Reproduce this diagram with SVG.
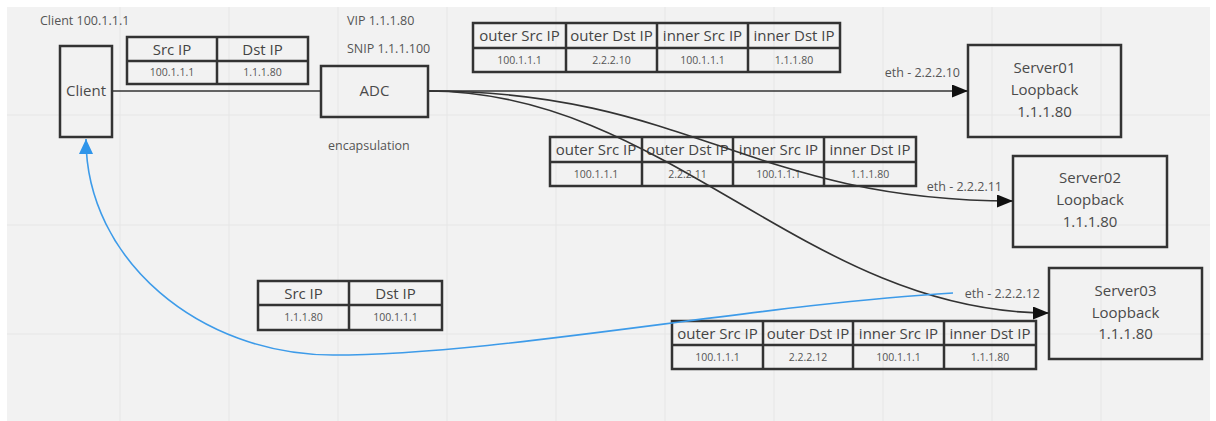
<svg xmlns="http://www.w3.org/2000/svg" width="1216" height="421" viewBox="0 0 1216 421">
<style>
.bg{fill:#f2f2f2}
.grid{stroke:#e6e6e6;stroke-width:1}
.box{fill:none;stroke:#333;stroke-width:2.5}
.tbl{fill:none;stroke:#333;stroke-width:2.5}
.lbl{font-family:"Open Sans","Liberation Sans",sans-serif;font-size:12.5px;fill:#555}
.name{font-family:"Open Sans","Liberation Sans",sans-serif;font-size:15px;fill:#4a4a4a;text-anchor:middle}
.th{font-family:"Open Sans","Liberation Sans",sans-serif;font-size:15px;fill:#444;text-anchor:middle}
.td{font-family:"Open Sans","Liberation Sans",sans-serif;font-size:10.5px;fill:#555;text-anchor:middle}
.conn{fill:none;stroke:#333;stroke-width:1.6}
.ret{fill:none;stroke:#3d9be9;stroke-width:1.6}
</style>
<defs>
<marker id="ah" markerUnits="userSpaceOnUse" markerWidth="16" markerHeight="13" refX="16" refY="6.5" orient="auto"><path d="M0,0 L16,6.5 L0,13 z" fill="#111"/></marker>
<marker id="ahb" markerUnits="userSpaceOnUse" markerWidth="15" markerHeight="14" refX="15" refY="7" orient="auto"><path d="M0,0 L15,7 L0,14 z" fill="#2f95ea"/></marker>
</defs>
<rect x="0" y="0" width="1216" height="421" fill="#ffffff"/>
<rect class="bg" x="7" y="7" width="1203" height="414"/>
<g id="grid">
<path class="grid" d="M120,7V421M229,7V421M338,7V421M447,7V421M556,7V421M665,7V421M774,7V421M883,7V421M992,7V421M1101,7V421M7,115H1210M7,225H1210M7,334H1210"/>
</g>
<g id="labels">
<text class="lbl" x="40" y="24.5">Client 100.1.1.1</text>
<text class="lbl" x="347" y="24.5">VIP 1.1.1.80</text>
<text class="lbl" x="347" y="52.5">SNIP 1.1.1.100</text>
<text class="lbl" x="328" y="150">encapsulation</text>
<text class="lbl" x="960" y="77" text-anchor="end">eth - 2.2.2.10</text>
<text class="lbl" x="1002" y="191" text-anchor="end">eth - 2.2.2.11</text>
<text class="lbl" x="1040" y="298" text-anchor="end">eth - 2.2.2.12</text>
</g>
<g id="client">
<rect class="box" x="60" y="46" width="52" height="91"/>
<text class="name" x="86" y="96">Client</text>
</g>
<g id="adc">
<rect class="box" x="321" y="66" width="107" height="51"/>
<text class="name" x="374.5" y="96">ADC</text>
</g>
<g id="server01">
<rect class="box" x="968" y="45" width="153" height="92"/>
<text class="name" x="1044.5" y="73">Server01</text>
<text class="name" x="1044.5" y="95">Loopback</text>
<text class="name" x="1044.5" y="117">1.1.1.80</text>
</g>
<g id="server02">
<rect class="box" x="1013" y="156" width="154" height="91"/>
<text class="name" x="1090" y="183">Server02</text>
<text class="name" x="1090" y="205">Loopback</text>
<text class="name" x="1090" y="227">1.1.1.80</text>
</g>
<g id="server03">
<rect class="box" x="1049" y="268" width="153" height="91"/>
<text class="name" x="1125.5" y="296">Server03</text>
<text class="name" x="1125.5" y="318">Loopback</text>
<text class="name" x="1125.5" y="339">1.1.1.80</text>
</g>
<g id="table1">
<rect class="tbl" x="127" y="37" width="181" height="47"/>
<path class="tbl" d="M127,61H308M217,37V84"/>
<text class="th" x="172" y="54.5">Src IP</text>
<text class="th" x="262.5" y="54.5">Dst IP</text>
<text class="td" x="172" y="76">100.1.1.1</text>
<text class="td" x="262.5" y="76">1.1.1.80</text>
</g>
<g id="table2">
<rect class="tbl" x="473" y="23" width="367" height="49"/>
<path class="tbl" d="M473,48H840M566,23V72M657,23V72M748,23V72"/>
<text class="th" x="519.5" y="41">outer Src IP</text>
<text class="th" x="611.5" y="41">outer Dst IP</text>
<text class="th" x="702.5" y="41">inner Src IP</text>
<text class="th" x="794" y="41">inner Dst IP</text>
<text class="td" x="519.5" y="63.5">100.1.1.1</text>
<text class="td" x="611.5" y="63.5">2.2.2.10</text>
<text class="td" x="702.5" y="63.5">100.1.1.1</text>
<text class="td" x="794" y="63.5">1.1.1.80</text>
</g>
<g id="table3">
<rect class="tbl" x="550" y="137" width="366" height="49"/>
<path class="tbl" d="M550,162H916M642,137V186M733,137V186M824,137V186"/>
<text class="th" x="596" y="155">outer Src IP</text>
<text class="th" x="687.5" y="155">outer Dst IP</text>
<text class="th" x="778.5" y="155">inner Src IP</text>
<text class="th" x="870" y="155">inner Dst IP</text>
<text class="td" x="596" y="177.5">100.1.1.1</text>
<text class="td" x="687.5" y="177.5">2.2.2.11</text>
<text class="td" x="778.5" y="177.5">100.1.1.1</text>
<text class="td" x="870" y="177.5">1.1.1.80</text>
</g>
<g id="table4">
<rect class="tbl" x="672" y="321" width="364" height="48"/>
<path class="tbl" d="M672,345H1036M763,321V369M853,321V369M944,321V369"/>
<text class="th" x="717.5" y="338.5">outer Src IP</text>
<text class="th" x="808" y="338.5">outer Dst IP</text>
<text class="th" x="898.5" y="338.5">inner Src IP</text>
<text class="th" x="990" y="338.5">inner Dst IP</text>
<text class="td" x="717.5" y="360.5">100.1.1.1</text>
<text class="td" x="808" y="360.5">2.2.2.12</text>
<text class="td" x="898.5" y="360.5">100.1.1.1</text>
<text class="td" x="990" y="360.5">1.1.1.80</text>
</g>
<g id="table5">
<rect class="tbl" x="258" y="281" width="184" height="49"/>
<path class="tbl" d="M258,305H442M349,281V330"/>
<text class="th" x="303.5" y="298.5">Src IP</text>
<text class="th" x="395.5" y="298.5">Dst IP</text>
<text class="td" x="303.5" y="321">1.1.1.80</text>
<text class="td" x="395.5" y="321">100.1.1.1</text>
</g>
<g id="connectors">
<path class="conn" d="M112,91H321"/>
<path class="conn" d="M428,91H968" marker-end="url(#ah)"/>
<path class="conn" d="M428,91C689,91 750,201 1013,201" marker-end="url(#ah)"/>
<path class="conn" d="M428,91C667,91 806,313 1049,313" marker-end="url(#ah)"/>
<path class="ret" d="M953,293C750,305 500,355 333,355C200,355 86,260 86,139" marker-end="url(#ahb)"/>
</g>
</svg>
